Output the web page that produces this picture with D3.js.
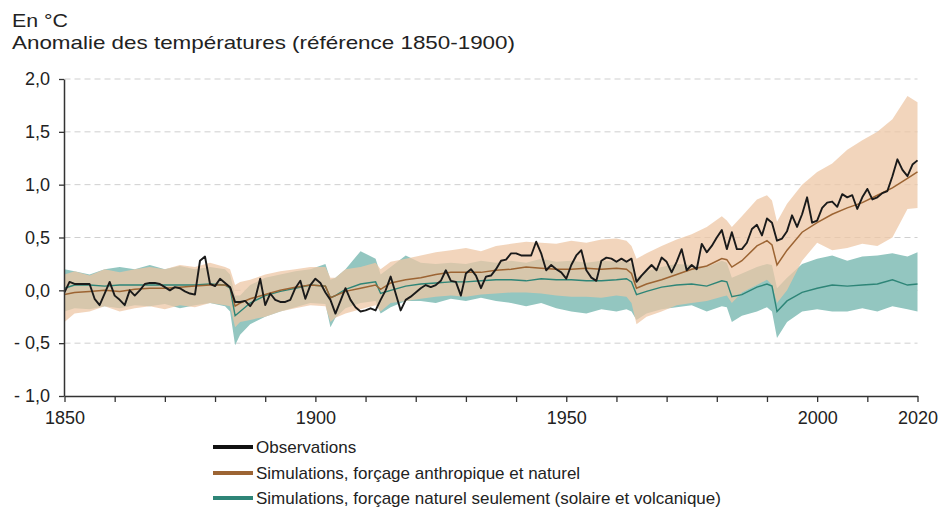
<!DOCTYPE html>
<html>
<head>
<meta charset="utf-8">
<script src="https://cdn.jsdelivr.net/npm/d3@7"></script>
<style>
  html, body { margin: 0; padding: 0; background: #fff; }
  svg { display: block; font-family: "Liberation Sans", Arial, Helvetica, sans-serif; }
</style>
</head>
<body>
<svg id="chart" width="939" height="507"></svg>
<script>
// ---------------- DATA ----------------
const titleUnit = "En °C";
const titleText = "Anomalie des températures (référence 1850-1900)";

const yTicks = [-1, -0.5, 0, 0.5, 1, 1.5, 2];
const xTicks = [1850, 1860, 1870, 1880, 1890, 1900, 1910, 1920, 1930, 1940, 1950, 1960, 1970, 1980, 1990, 2000, 2010, 2020];
const xTickLabels = [1850, 1900, 1950, 2000, 2020];

const legendLabels = [
  "Observations",
  "Simulations, forçage anthropique et naturel",
  "Simulations, forçage naturel seulement (solaire et volcanique)"
];

// Observed annual anomalies, 1850..2020
const obsStartYear = 1850;
const observations = [
  -0.02, 0.08, 0.06, 0.06, 0.06, 0.06, -0.08, -0.14, -0.03, 0.08,
  -0.05, -0.09, -0.14, 0.00, -0.05, 0.00, 0.06, 0.07, 0.07, 0.06,
  0.03, 0.00, 0.03, 0.02, -0.01, -0.03, -0.04, 0.28, 0.32, 0.06,
  0.04, 0.11, 0.07, 0.03, -0.11, -0.11, -0.10, -0.15, -0.08, 0.11,
  -0.14, -0.03, -0.09, -0.11, -0.11, -0.09, 0.02, 0.09, -0.08, 0.05,
  0.11, 0.07, -0.02, -0.09, -0.22, -0.10, 0.02, -0.09, -0.16, -0.20,
  -0.19, -0.17, -0.19, -0.09, 0.00, 0.13, -0.03, -0.19, -0.09, -0.06,
  -0.02, 0.02, 0.05, 0.03, 0.05, 0.09, 0.19, 0.09, 0.08, -0.05,
  0.16, 0.20, 0.14, 0.02, 0.13, 0.14, 0.20, 0.28, 0.29, 0.35,
  0.35, 0.33, 0.33, 0.33, 0.46, 0.35, 0.19, 0.24, 0.20, 0.17,
  0.11, 0.24, 0.33, 0.38, 0.19, 0.12, 0.09, 0.28, 0.31, 0.30,
  0.27, 0.30, 0.27, 0.30, 0.08, 0.14, 0.19, 0.24, 0.19, 0.31,
  0.27, 0.17, 0.27, 0.39, 0.19, 0.24, 0.20, 0.44, 0.36, 0.42,
  0.50, 0.57, 0.39, 0.55, 0.39, 0.39, 0.45, 0.58, 0.62, 0.52,
  0.68, 0.64, 0.47, 0.49, 0.56, 0.71, 0.60, 0.72, 0.88, 0.64,
  0.66, 0.78, 0.83, 0.84, 0.79, 0.91, 0.88, 0.90, 0.77, 0.88,
  0.96, 0.86, 0.88, 0.92, 0.94, 1.08, 1.24, 1.14, 1.08, 1.19,
  1.23
];

// Simulation sample years (shared by means and ranges)
const simYears = [
  1850, 1852, 1855, 1858, 1861, 1864, 1867, 1870, 1873, 1876,
  1879, 1882, 1883, 1884, 1885, 1887, 1890, 1893, 1896, 1899,
  1902, 1903, 1904, 1906, 1909, 1912, 1913, 1915, 1918, 1921,
  1924, 1927, 1930, 1933, 1936, 1939, 1942, 1945, 1948, 1951,
  1954, 1957, 1960, 1962, 1963, 1964, 1966, 1969, 1972, 1975,
  1978, 1981, 1982, 1983, 1985, 1988, 1990, 1991, 1992, 1994,
  1997, 2000, 2003, 2006, 2009, 2012, 2015, 2018, 2020
];

// Human + natural forcing: mean, upper, lower
const anthMean = [
  -0.04, -0.02, -0.01, 0.00, -0.01, 0.01, 0.02, 0.02, 0.03, 0.04,
  0.05, 0.05, 0.03, -0.15, -0.12, -0.08, -0.04, 0.00, 0.03, 0.05,
  0.04, -0.07, -0.05, -0.01, 0.02, 0.05, 0.01, 0.07, 0.10, 0.12,
  0.15, 0.17, 0.17, 0.17, 0.19, 0.20, 0.22, 0.21, 0.20, 0.20,
  0.21, 0.20, 0.21, 0.20, 0.16, 0.02, 0.06, 0.10, 0.15, 0.20,
  0.23, 0.30, 0.29, 0.22, 0.28, 0.42, 0.47, 0.43, 0.24, 0.38,
  0.55, 0.64, 0.72, 0.78, 0.83, 0.90, 0.97, 1.06, 1.12
];
const anthUpper = [
  0.15, 0.18, 0.14, 0.20, 0.17, 0.20, 0.22, 0.20, 0.24, 0.22,
  0.26, 0.22, 0.20, 0.05, 0.08, 0.10, 0.15, 0.18, 0.20, 0.22,
  0.22, 0.12, 0.12, 0.20, 0.22, 0.26, 0.20, 0.27, 0.30, 0.33,
  0.36, 0.38, 0.40, 0.37, 0.42, 0.44, 0.46, 0.45, 0.44, 0.47,
  0.45, 0.48, 0.49, 0.47, 0.42, 0.30, 0.35, 0.42, 0.48, 0.53,
  0.60, 0.70, 0.66, 0.60, 0.70, 0.86, 0.90, 0.85, 0.65, 0.82,
  1.00, 1.12, 1.20, 1.33, 1.42, 1.50, 1.62, 1.84, 1.78
];
const anthLower = [
  -0.30, -0.22, -0.20, -0.15, -0.20, -0.17, -0.15, -0.18, -0.14, -0.16,
  -0.12, -0.14, -0.15, -0.35, -0.30, -0.28, -0.25, -0.20, -0.17, -0.14,
  -0.15, -0.30, -0.26, -0.22, -0.18, -0.14, -0.20, -0.12, -0.10, -0.08,
  -0.06, -0.05, -0.06, -0.04, -0.03, -0.02, -0.02, -0.03, -0.05, -0.06,
  -0.06, -0.07, -0.05, -0.06, -0.12, -0.32, -0.25, -0.20, -0.14, -0.12,
  -0.10, -0.06, -0.05, -0.12, -0.02, 0.05, 0.10, 0.05, -0.12, 0.00,
  0.28, 0.45, 0.38, 0.40, 0.44, 0.42, 0.50, 0.77, 0.78
];

// Natural-only forcing: mean, upper, lower
const natMean = [
  0.02, 0.05, 0.05, 0.04, 0.05, 0.05, 0.05, 0.05, 0.05, 0.05,
  0.06, 0.05, 0.02, -0.24, -0.20, -0.12, -0.05, -0.01, 0.02, 0.05,
  0.04, -0.07, -0.05, 0.01, 0.06, 0.08, -0.03, 0.00, 0.04, 0.06,
  0.07, 0.08, 0.08, 0.09, 0.10, 0.10, 0.09, 0.11, 0.10, 0.10,
  0.09, 0.09, 0.10, 0.11, 0.08, -0.04, -0.01, 0.03, 0.05, 0.06,
  0.04, 0.09, 0.08, -0.06, -0.04, 0.03, 0.06, 0.04, -0.20, -0.10,
  -0.02, 0.02, 0.05, 0.04, 0.05, 0.06, 0.10, 0.05, 0.06
];
const natUpper = [
  0.20, 0.18, 0.15, 0.20, 0.22, 0.20, 0.24, 0.20, 0.23, 0.20,
  0.22, 0.20, 0.15, -0.05, -0.05, 0.05, 0.12, 0.15, 0.18, 0.20,
  0.25, 0.10, 0.12, 0.20, 0.37, 0.30, 0.15, 0.22, 0.33, 0.26,
  0.25, 0.26, 0.25, 0.28, 0.26, 0.28, 0.26, 0.30, 0.27, 0.28,
  0.26, 0.28, 0.27, 0.28, 0.25, 0.12, 0.18, 0.22, 0.25, 0.24,
  0.22, 0.28, 0.26, 0.12, 0.16, 0.22, 0.25, 0.24, 0.02, 0.12,
  0.25, 0.30, 0.33, 0.28, 0.32, 0.33, 0.35, 0.32, 0.36
];
const natLower = [
  -0.20, -0.17, -0.18, -0.15, -0.17, -0.14, -0.15, -0.13, -0.17, -0.14,
  -0.12, -0.15, -0.20, -0.52, -0.42, -0.32, -0.25, -0.20, -0.16, -0.12,
  -0.13, -0.35, -0.26, -0.17, -0.12, -0.10, -0.22, -0.16, -0.10, -0.10,
  -0.12, -0.08, -0.10, -0.07, -0.10, -0.12, -0.15, -0.12, -0.17, -0.20,
  -0.22, -0.18, -0.20, -0.18, -0.20, -0.28, -0.22, -0.18, -0.16, -0.14,
  -0.20, -0.15, -0.16, -0.30, -0.24, -0.20, -0.16, -0.20, -0.45, -0.30,
  -0.20, -0.18, -0.20, -0.20, -0.17, -0.20, -0.15, -0.18, -0.20
];

// ---------------- DRAW ----------------
const svg = d3.select("#chart");
const textColor = "#222";

const x = d3.scaleLinear().domain([1850, 2020]).range([64.5, 917.5]);
const y = d3.scaleLinear().domain([-1, 2]).range([396, 79]);

// Titles (slightly wide face in the original: stretch horizontally)
svg.append("text").attr("x", 12).attr("y", 26.5)
  .attr("font-size", 19).attr("fill", textColor)
  .attr("textLength", 56).attr("lengthAdjust", "spacingAndGlyphs")
  .text(titleUnit);
svg.append("text").attr("x", 12).attr("y", 48.5)
  .attr("font-size", 19).attr("fill", textColor)
  .attr("textLength", 503).attr("lengthAdjust", "spacingAndGlyphs")
  .text(titleText);

// Gridlines
svg.append("g").selectAll("line")
  .data(yTicks.filter(d => d > -1))
  .join("line")
  .attr("x1", x(1850)).attr("x2", x(2020))
  .attr("y1", d => y(d)).attr("y2", d => y(d))
  .attr("stroke", "#cfcfcf").attr("stroke-width", 1)
  .attr("stroke-dasharray", "6,4");

const obsData = observations.map((v, i) => ({ year: obsStartYear + i, v }));
const simData = simYears.map((yr, i) => ({
  year: yr,
  am: anthMean[i], au: anthUpper[i], al: anthLower[i],
  nm: natMean[i], nu: natUpper[i], nl: natLower[i]
}));

// Bands
svg.append("path").datum(simData)
  .attr("d", d3.area().x(d => x(d.year)).y0(d => y(d.nl)).y1(d => y(d.nu)))
  .attr("fill", "#93c6c0");
svg.append("path").datum(simData)
  .attr("d", d3.area().x(d => x(d.year)).y0(d => y(d.al)).y1(d => y(d.au)))
  .attr("fill", "rgb(238,199,166)").attr("fill-opacity", 0.75);

// Lines
svg.append("path").datum(simData)
  .attr("d", d3.line().x(d => x(d.year)).y(d => y(d.nm)))
  .attr("fill", "none").attr("stroke", "#2e8577").attr("stroke-width", 1.4);
svg.append("path").datum(simData)
  .attr("d", d3.line().x(d => x(d.year)).y(d => y(d.am)))
  .attr("fill", "none").attr("stroke", "#9c6433").attr("stroke-width", 1.5);
svg.append("path").datum(obsData)
  .attr("d", d3.line().x(d => x(d.year)).y(d => y(d.v)))
  .attr("fill", "none").attr("stroke", "#1a1a1a").attr("stroke-width", 1.9)
  .attr("stroke-linejoin", "round");

// Axes
const fmtY = v => (v < 0 ? "- " : "") + Math.abs(v).toFixed(1).replace(".", ",");
const yAxis = svg.append("g").attr("transform", `translate(${x(1850) - 0.5},0)`)
  .call(d3.axisLeft(y).tickValues(yTicks).tickFormat(fmtY).tickSize(5).tickSizeOuter(0).tickPadding(9));
const xAxis = svg.append("g").attr("transform", `translate(0,${y(-1)})`)
  .call(d3.axisBottom(x).tickValues(xTicks)
    .tickFormat(d => xTickLabels.includes(d) ? String(d) : "")
    .tickSize(6).tickSizeOuter(0).tickPadding(9));

[yAxis, xAxis].forEach(g => {
  g.select(".domain").attr("stroke", "#333").attr("stroke-width", 1.5);
  g.selectAll(".tick line").attr("stroke", "#333").attr("stroke-width", 1.3);
  g.selectAll(".tick text").attr("fill", textColor).attr("font-size", 18)
    .attr("font-family", "'Liberation Sans', Arial, sans-serif");
});

// Legend
const legendColors = ["#111111", "#9c6433", "#2e8577"];
const legend = svg.append("g");
const legendY = [447, 473, 498];
legendLabels.forEach((lab, i) => {
  legend.append("line")
    .attr("x1", 213).attr("x2", 253)
    .attr("y1", legendY[i]).attr("y2", legendY[i])
    .attr("stroke", legendColors[i]).attr("stroke-width", 4);
  legend.append("text")
    .attr("x", 256).attr("y", legendY[i] + 6)
    .attr("font-size", 17).attr("fill", textColor).text(lab);
});
</script>
</body>
</html>
